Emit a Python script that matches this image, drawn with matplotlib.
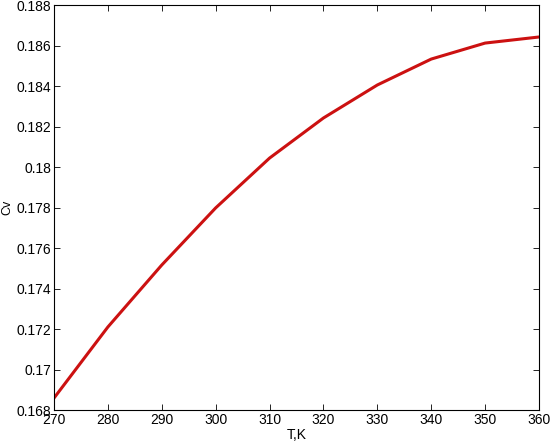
import matplotlib
matplotlib.use('Agg')
import matplotlib.pyplot as plt

plt.rcParams['font.family'] = ['Liberation Sans', 'DejaVu Sans']

# temperature (K) and heat capacity
temps = [270, 280, 290, 300, 310, 320, 330, 340, 350, 360]
cv = [0.16859, 0.1721, 0.17516, 0.17798, 0.18044, 0.18242, 0.18405, 0.18533, 0.18612, 0.18642]

xticks = [270, 280, 290, 300, 310, 320, 330, 340, 350, 360]
yticks = [0.168, 0.17, 0.172, 0.174, 0.176, 0.178, 0.18, 0.182, 0.184, 0.186, 0.188]
ytick_labels = ['0.168', '0.17', '0.172', '0.174', '0.176', '0.178', '0.18', '0.182', '0.184', '0.186', '0.188']

fig = plt.figure(figsize=(5.56, 4.42), dpi=100)
ax = fig.add_axes([54/556, 1 - 410/442, (539-54)/556, (410-5)/442])

ax.plot(temps, cv, color='#cc1111', linewidth=2.2)

ax.set_xlim(270, 360)
ax.set_ylim(0.168, 0.188)
ax.set_xticks(xticks)
ax.set_yticks(yticks)
ax.set_yticklabels(ytick_labels)
ax.tick_params(direction='in', top=True, right=True, labelsize=10, length=4, width=0.6, pad=2)
for s in ax.spines.values():
    s.set_linewidth(0.8)
ax.set_xlabel('T,K', fontsize=10, labelpad=1)
ax.set_ylabel('Cv', fontsize=9)
ax.yaxis.set_label_coords(-41/485, 0.5)

fig.savefig('out.png', dpi=100)
